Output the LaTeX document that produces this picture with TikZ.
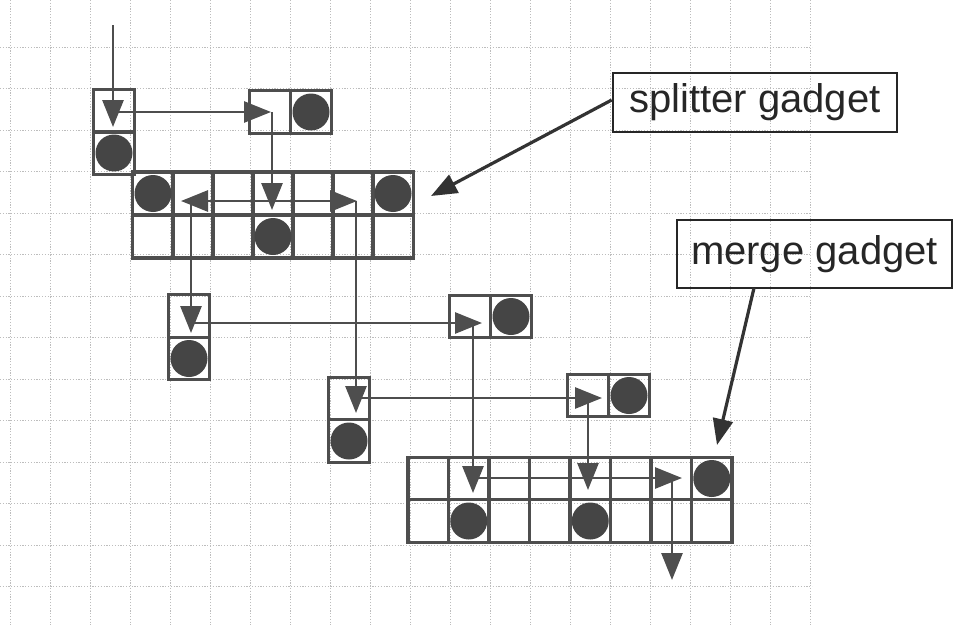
\documentclass[tikz,border=0pt]{standalone}
\usepackage{fontspec}
\setmainfont{Liberation Sans}
\usetikzlibrary{arrows.meta}
\definecolor{ink}{HTML}{4E4E4E}
\definecolor{dotc}{HTML}{454545}
\definecolor{gridc}{HTML}{BDBDBD}
\begin{document}
\begin{tikzpicture}[x=1pt,y=-1pt,
  gridline/.style={gridc,line width=0.7pt,dash pattern=on 1.2pt off 1.6pt},
  cell/.style={draw=ink,line width=3.4pt,inner sep=0pt,minimum width=40.5pt,minimum height=42.5pt},
  dot/.style={circle,fill=dotc,inner sep=0pt,minimum size=37pt},
  flow/.style={draw=ink,line width=2.8pt,-{Triangle[length=27pt,width=21pt]}},
  label/.style={draw=black!85,line width=2.6pt,inner sep=0pt,text=black!85,font=\fontsize{40}{44}\selectfont},
  pointer/.style={draw=black!80,line width=3.2pt,-{Triangle[length=26pt,width=20pt]}}]
\useasboundingbox (0,0) rectangle (959,629);
\fill[white] (0,0) rectangle (959,629);
% background grid
\foreach \k in {0,...,20} \draw[gridline] ({10+40*\k},0) -- ({10+40*\k},625);
\foreach \k in {1,...,14} \draw[gridline] (0,{5.5+41.5*\k}) -- (812,{5.5+41.5*\k});
% box A
\node[cell] (A1) at (114,111) {};
\node[cell] (A2) at (114,153) {};
% box B
\node[cell] (B1) at (270,112) {};
\node[cell] (B2) at (311,112) {};
% splitter gadget
\foreach \i in {1,...,7} {
  \node[cell,minimum height=43pt] (S\i) at ({113+40*\i},193.5) {};
  \node[cell,minimum height=43pt] (T\i) at ({113+40*\i},236.5) {};
}
% box C
\node[cell] (C1) at (189,316) {};
\node[cell] (C2) at (189,358.5) {};
% box E
\node[cell] (E1) at (470,316.5) {};
\node[cell] (E2) at (511,316.5) {};
% box D
\node[cell] (D1) at (349,398.5) {};
\node[cell] (D2) at (349,441) {};
% box F
\node[cell] (F1) at (588,395.5) {};
\node[cell] (F2) at (629,395.5) {};
% merge gadget
\foreach \i in {1,...,8} {
  \node[cell] (M\i) at ({387.75+40.5*\i},478.5) {};
  \node[cell] (N\i) at ({387.75+40.5*\i},521) {};
}
% dots
\node[dot] (dA) at (A2) {};
\node[dot] (dB) at (B2) {};
\node[dot] (dS1) at (S1) {};
\node[dot] (dS7) at (S7) {};
\node[dot] (dT4) at (T4) {};
\node[dot] (dC) at (C2) {};
\node[dot] (dE) at (E2) {};
\node[dot] (dD) at (D2) {};
\node[dot] (dF) at (F2) {};
\node[dot] (dM8) at (M8) {};
\node[dot] (dN2) at (N2) {};
\node[dot] (dN5) at (N5) {};
% route points
\coordinate (in) at (113,25);
\coordinate (tA) at (113,127);
\coordinate (pA) at (113,112);
\coordinate (tB) at (271,112);
\coordinate (vB) at (272,112);
\coordinate (tS4) at (272,210);
\coordinate (pS4) at (272,201);
\coordinate (tS2) at (181,201);
\coordinate (vS2) at (191,201);
\coordinate (tS6) at (357,201);
\coordinate (vS6) at (356,201);
\coordinate (tC) at (191,333);
\coordinate (pC) at (191,323);
\coordinate (tE) at (482,323);
\coordinate (vE) at (473,323);
\coordinate (tD) at (356,413);
\coordinate (pD) at (356,398);
\coordinate (tF) at (602,398);
\coordinate (vF) at (588,398);
\coordinate (tM2) at (473,493);
\coordinate (pM2) at (473,478);
\coordinate (tM5) at (588,490);
\coordinate (tM7) at (682,478);
\coordinate (vM7) at (672,478);
\coordinate (out) at (672,580);
% flow connectors
\draw[flow] (in) -- (tA);
\draw[flow] (pA) -- (tB);
\draw[flow] (vB) -- (tS4);
\draw[flow] (pS4) -- (tS2);
\draw[flow] (pS4) -- (tS6);
\draw[flow] (vS2) -- (tC);
\draw[flow] (pC) -- (tE);
\draw[flow] (vS6) -- (tD);
\draw[flow] (pD) -- (tF);
\draw[flow] (vE) -- (tM2);
\draw[flow] (vF) -- (tM5);
\draw[flow] (pM2) -- (tM7);
\draw[flow] (vM7) -- (out);
% labels
\node[label,minimum width=284pt,minimum height=59pt] (ls) at (755,102.5) {splitter gadget};
\node[label,minimum width=275pt,minimum height=68pt] (lm) at (814.5,254) {merge gadget};
\coordinate (sTip) at (431,196);
\coordinate (mTip) at (717,445);
\draw[pointer] (ls.west |- 0,100) -- (sTip);
\draw[pointer] (754,288) -- (mTip);
\end{tikzpicture}
\end{document}
